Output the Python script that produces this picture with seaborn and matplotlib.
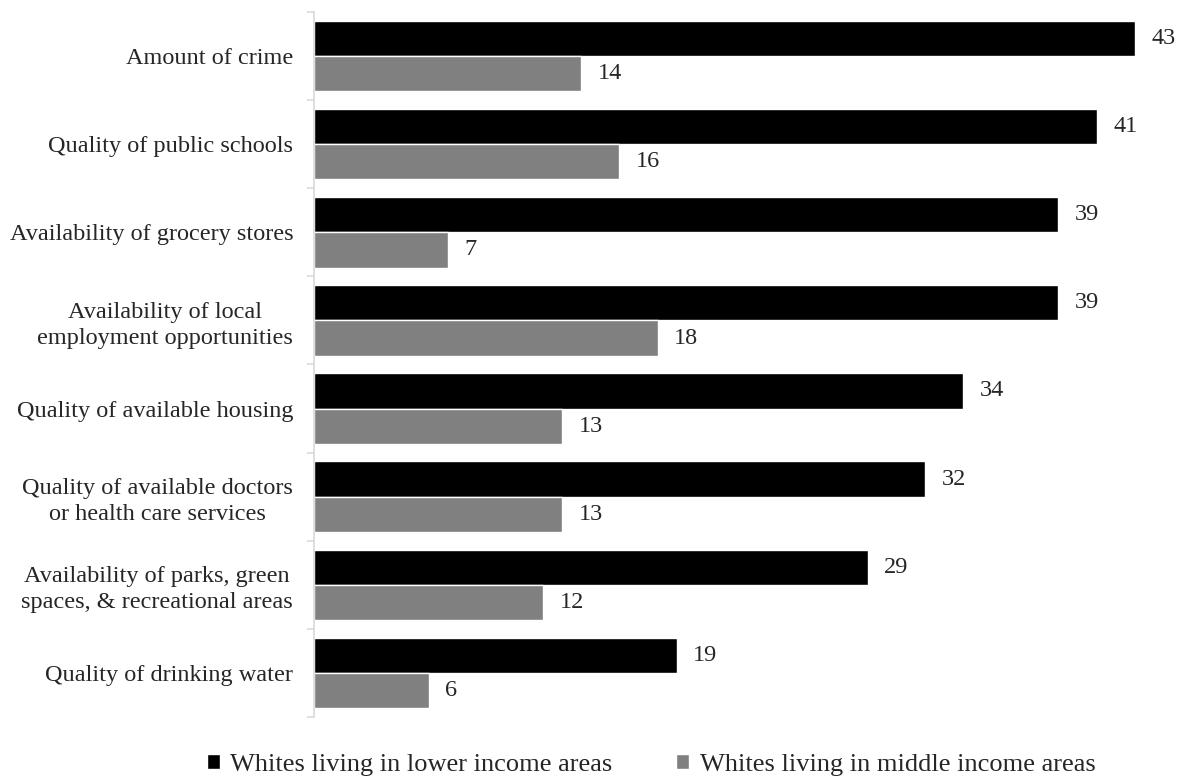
import matplotlib
matplotlib.use("Agg")
import matplotlib.pyplot as plt
import seaborn as sns
import pandas as pd
import numpy as np

categories = [
    "Amount of crime",
    "Quality of public schools",
    "Availability of grocery stores",
    "Availability of local\nemployment opportunities",
    "Quality of available housing",
    "Quality of available doctors\nor health care services",
    "Availability of parks, green\nspaces, & recreational areas",
    "Quality of drinking water",
]
lower_income = [43, 41, 39, 39, 34, 32, 29, 19]
middle_income = [14, 16, 7, 18, 13, 13, 12, 6]
series_names = ["Whites living in lower income areas", "Whites living in middle income areas"]
colors = ["#000000", "#808080"]

df = pd.DataFrame({
    "category": categories * 2,
    "value": lower_income + middle_income,
    "series": [series_names[0]] * len(categories) + [series_names[1]] * len(categories),
})

sns.set_theme(style="white")
plt.rcParams["font.family"] = ["Liberation Serif", "DejaVu Serif"]

fig = plt.figure(figsize=(11.82, 7.83), dpi=100)
ax = fig.add_axes([314 / 1182, 1 - 717 / 783, (1173 - 314) / 1182, (717 - 12) / 783])

sns.barplot(data=df, y="category", x="value", hue="series", order=categories,
            hue_order=series_names, palette=colors, orient="h", width=0.8,
            saturation=1, ax=ax, legend=True)

ax.set_xlim(0, 45)
ax.set_ylim(len(categories) - 0.5, -0.5)
ax.set_xlabel("")
ax.set_ylabel("")
ax.set_xticks([])
for s in ["top", "right", "bottom"]:
    ax.spines[s].set_visible(False)
ax.spines["left"].set_color("#d9d9d9")
ax.spines["left"].set_linewidth(1.2)
ax.tick_params(axis="y", which="major", left=False, length=0, labelsize=17.5, pad=15)
ax.set_yticks(np.arange(-0.5, len(categories), 1.0), minor=True)
ax.tick_params(axis="y", which="minor", left=True, length=5, color="#d9d9d9", width=1.2)
for lbl in ax.get_yticklabels():
    lbl.set_horizontalalignment("right")
    lbl.set_multialignment("center")
    lbl.set_linespacing(1.3)

for cont in ax.containers:
    ax.bar_label(cont, fmt="%d", padding=12, fontsize=17.5)

handles, labels = ax.get_legend_handles_labels()
ax.legend_.remove()
fig.legend(handles, labels, loc="center", bbox_to_anchor=(651 / 1182, 1 - 765 / 783), ncol=2,
           frameon=False, fontsize=19, handlelength=0.5, handleheight=0.5,
           handletextpad=0.4, columnspacing=2.4, borderpad=0, borderaxespad=0)

fig.savefig("out.png", dpi=100)
